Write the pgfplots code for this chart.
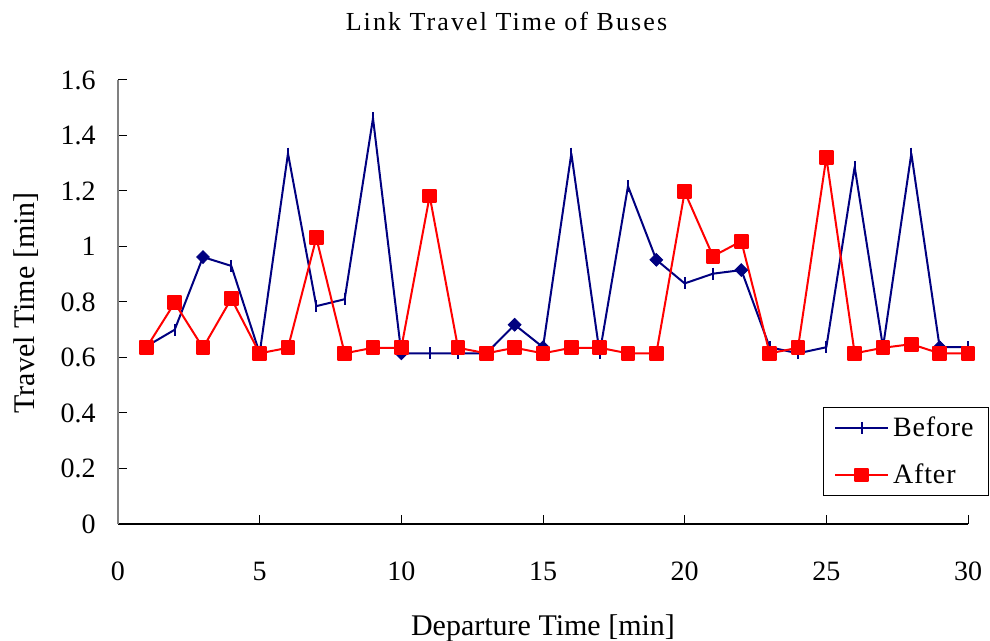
\documentclass[border=0pt]{standalone}
\usepackage{fontspec}
\setmainfont{Liberation Serif}
\usepackage{pgfplots}
\pgfplotsset{compat=1.18}

\definecolor{before}{RGB}{0,0,128}
\definecolor{after}{RGB}{255,0,0}

% before / after travel times per departure minute
\pgfplotstableread{
t   v
1   0.640
2   0.700
3   0.962
4   0.930
5   0.615
6   1.335
7   0.785
8   0.810
9   1.462
10  0.615
11  0.615
12  0.615
13  0.615
14  0.718
15  0.637
16  1.335
17  0.615
18  1.217
19  0.952
20  0.867
21  0.902
22  0.915
23  0.637
24  0.615
25  0.637
26  1.287
27  0.637
28  1.335
29  0.637
30  0.637
}\before

\pgfplotstableread{
t   v
3   0.962
10  0.615
14  0.718
15  0.637
19  0.952
22  0.915
29  0.637
}\beforediam

\pgfplotstableread{
t   v
1   0.635
2   0.797
3   0.635
4   0.812
5   0.615
6   0.635
7   1.031
8   0.615
9   0.635
10  0.635
11  1.182
12  0.635
13  0.615
14  0.635
15  0.615
16  0.635
17  0.635
18  0.615
19  0.615
20  1.197
21  0.965
22  1.019
23  0.615
24  0.635
25  1.321
26  0.615
27  0.635
28  0.648
29  0.615
30  0.615
}\after

\begin{document}
\begin{tikzpicture}
\path[use as bounding box] (-59pt,-58.5pt) rectangle (436pt,262pt);
\begin{axis}[
  at={(0pt,0pt)}, anchor=south west,
  scale only axis,
  width=425pt, height=222pt,
  xmin=0, xmax=30, ymin=0, ymax=1.6,
  axis x line=bottom, axis y line=left,
  axis line style={-},
  x axis line style={black, line width=0.6pt},
  y axis line style={gray, line width=0.7pt},
  tick align=inside,
  major tick length=4.5pt,
  tick style={black, line width=0.5pt},
  xtick={0,5,10,15,20,25,30},
  ytick={0,0.2,0.4,0.6,0.8,1,1.2,1.4,1.6},
  /pgf/number format/assume math mode=true,
  yticklabel={\pgfmathprintnumber[fixed,precision=1]{\tick}},
  ticklabel style={font=\fontsize{14pt}{16pt}\selectfont},
  xticklabel style={yshift=-15.5pt},
  yticklabel style={xshift=-7.6pt},
  title={\addfontfeatures{LetterSpace=8}Link Travel Time of Buses},
  title style={at={(axis description cs:0.457,1)}, anchor=center,
    yshift=23.25pt, font=\fontsize{13pt}{15pt}\selectfont},
  xlabel={Departure Time [min]},
  xlabel style={at={(axis description cs:0.5,0)}, anchor=center,
    yshift=-52pt, font=\fontsize{15pt}{17pt}\selectfont},
  ylabel={Travel Time [min]},
  ylabel style={at={(axis description cs:-0.108,0.498)}, anchor=center,
    font=\fontsize{15pt}{17pt}\selectfont},
  legend style={at={(axis description cs:0.829,0.063)}, anchor=south west,
    draw=black, line width=0.5pt, inner xsep=5.5pt, inner ysep=2.6pt,
    row sep=8.2pt,
    font=\fontsize{14pt}{16pt}\selectfont\addfontfeatures{LetterSpace=3}},
  legend cell align=left,
  legend image code/.code={
    \draw[mark repeat=2, mark phase=2, #1]
      plot coordinates {(0pt,0pt) (13.25pt,0pt) (26.5pt,0pt)};},
]
\addplot[color=before, line width=1pt, line join=round, mark=|,
  mark size=3pt, mark options={solid, line width=1pt}] table[x=t, y=v] {\before};
\addlegendentry{Before}
\addplot[forget plot, only marks, color=before, mark=diamond*,
  mark size=3.2pt, mark options={xscale=1.33}] table[x=t, y=v] {\beforediam};
\addplot[color=after, line width=1pt, line join=round, mark=square*,
  mark size=3.2pt, mark options={solid}] table[x=t, y=v] {\after};
\addlegendentry{After}
\end{axis}
\end{tikzpicture}
\end{document}
